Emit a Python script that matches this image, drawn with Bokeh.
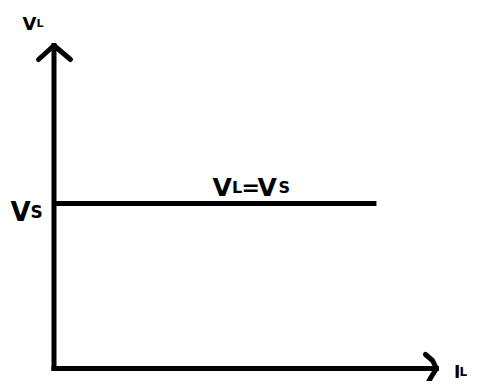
from bokeh.plotting import figure
from bokeh.models import Range1d, Label
from bokeh.embed import file_html
from bokeh.resources import INLINE

# ---- data (diagram values) ----
x_axis_tip = 10.0      # I_L axis length
y_axis_tip = 10.0      # V_L axis length
VS = 5.11              # source voltage level
line_end = 8.43        # extent of V_L = V_S line along I_L
line_x = [0.0, line_end]
line_y = [VS, VS]

W, H = 470, 381
# px per unit and origin position inside the frame
sx = 38.25
sy = 32.3
x0_px, y0_px = 53.5, 368.0

p = figure(width=W, height=H, output_backend="svg", toolbar_location=None,
           x_range=Range1d(-x0_px / sx, (W - x0_px) / sx),
           y_range=Range1d(-(H - y0_px) / sy, y0_px / sy),
           min_border=0)
p.axis.visible = False
p.grid.visible = False
p.outline_line_color = None
p.background_fill_color = "white"
p.border_fill_color = "white"

LW = 5
# axes
p.line([0, 0], [0, y_axis_tip], line_width=LW, line_color="black", line_cap="square")
p.line([0, x_axis_tip], [0, 0], line_width=LW, line_color="black", line_cap="square")
# V_L = V_S line
p.line(line_x, line_y, line_width=LW, line_color="black")

def dx(px):
    return px / sx
def dy(px):
    return px / sy

# arrowheads
p.line([-dx(15.5), 0, dx(16.5)],
       [y_axis_tip - dy(14), y_axis_tip, y_axis_tip - dy(14)],
       line_width=LW, line_color="black", line_join="round", line_cap="round")
p.line([x_axis_tip - dx(11), x_axis_tip - dx(4), x_axis_tip, x_axis_tip - dx(5), x_axis_tip - dx(9)],
       [dy(14), dy(8), 0, -dy(8), -dy(15)],
       line_width=LW, line_color="black", line_join="round", line_cap="round")

FONT = "DejaVu Sans"
def lab(text, x, y, xo, yo, size):
    p.add_layout(Label(x=x, y=y, x_offset=xo, y_offset=yo, text=text,
                       text_font=FONT, text_font_style="bold",
                       text_font_size=f"{size}px", text_color="black",
                       text_align="left", text_baseline="alphabetic"))

# top label V_L (anchored at the top of the V_L axis)
lab("V", 0, y_axis_tip, -31.5, 22, 18)
lab("L", 0, y_axis_tip, -17.5, 22, 11)
# left label V_S (anchored at the V_S level)
lab("V", 0, VS, -43.5, -9, 26)
lab("S", 0, VS, -23.5, -9, 17)
# middle label V_L=V_S
mx = line_end / 2
m0 = -(line_end / 2) * sx + (212 - x0_px)
lab("V", mx, VS, m0, 16, 25)
lab("L", mx, VS, m0 + 19.5, 16, 16)
lab("=", mx, VS, m0 + 29, 16, 22)
lab("V", mx, VS, m0 + 45, 16, 25)
lab("S", mx, VS, m0 + 66, 16, 16)
# I_L label
lab("I", x_axis_tip, 0, 17.5, -3, 17)
lab("L", x_axis_tip, 0, 23, -3, 12)

open("out.html", "w").write(file_html(p, INLINE))
